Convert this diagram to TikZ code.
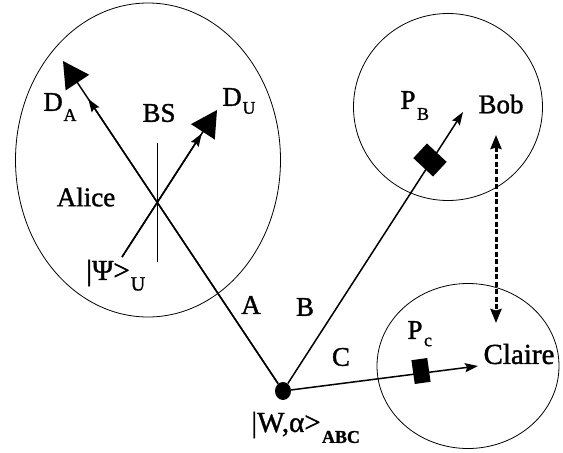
\documentclass[tikz,border=0pt]{standalone}
\usepackage{fontspec}
\setmainfont[RawFeature={embolden=1.3}]{Liberation Serif}
\usetikzlibrary{arrows.meta,shapes.geometric,calc}
\tikzset{
  blob/.style={draw,ellipse,line width=0.8pt,inner sep=0pt},
  ray/.style={line width=1.5pt},
  big/.style={line width=1.5pt,-{Triangle[length=26pt,width=28pt]}},
  small/.style={line width=1.5pt,-{Stealth[length=13pt,width=9pt,inset=2pt]}},
  lab/.style={inner sep=0pt,font=\fontsize{27}{27}\selectfont},
  sub/.style={inner sep=0pt,font=\fontsize{18}{18}\selectfont},
  subb/.style={inner sep=0pt,font=\fontsize{20}{20}\selectfont},
  modu/.style={fill=black,draw=none,inner sep=0pt}
}
\begin{document}
\begin{tikzpicture}[x=1pt,y=-1pt]
\useasboundingbox (0,0) rectangle (563,453);
\node[blob,minimum width=265pt,minimum height=314pt] (alice) at (148,160) {};
\node[blob,minimum width=189pt,minimum height=187pt] (bob) at (448,107) {};
\node[blob,minimum width=182pt,minimum height=165pt] (claire) at (468,366) {};
\node[ellipse,fill=black,inner sep=0pt,minimum width=16pt,minimum height=18pt] (src) at (283,391) {};
\coordinate (atip) at (63,61);
\coordinate (ustart) at (122,257);
\coordinate (utip) at (217,110);
\coordinate (btip) at (463,112);
\coordinate (ctip) at (478,366);
\coordinate (bstop) at (157.5,143);
\coordinate (bsbot) at (157.5,262);
\coordinate (dtop) at (496,135);
\coordinate (dbot) at (496,323);
% rays
\draw[big] (src) -- (atip);
\draw[small] (src) -- ($(src)!0.885!(atip)$);
\draw[big] (ustart) -- (utip);
\draw[small] (ustart) -- ($(ustart)!0.84!(utip)$);
\draw[ray] (bstop) -- (bsbot);
\draw[small] (src) -- (btip);
\draw[small] (src) -- (ctip);
\draw[line width=3pt,dash pattern=on 5pt off 2.5pt,{Stealth[length=14pt,width=11pt,inset=1.5pt]}-{Stealth[length=14pt,width=11pt,inset=1.5pt]}] (dtop) -- (dbot);
% modulators
\node[modu,minimum width=27pt,minimum height=20pt,rotate=-43] (pb) at (430,160) {};
\node[modu,minimum width=16pt,minimum height=24pt,rotate=8] (pc) at (421,371) {};
% labels
\node[lab] (da) at (53,102) {D};
\node[sub] (das) at (70,115) {A};
\node[lab] (du) at (232,97) {D};
\node[sub] (dus) at (249,108) {U};
\node[lab] (bs) at (159,113) {BS};
\node[lab] (al) at (86,197) {Alice};
\node[lab,font=\fontsize{29}{29}\selectfont] (psi) at (108,273) {|Ψ>};
\node[subb] (psis) at (138,284) {U};
\node[lab] (a) at (251,305) {A};
\node[lab] (b) at (305,307) {B};
\node[lab] (c) at (341,357) {C};
\node[lab] (pbl) at (408,100) {P};
\node[sub] (pbs) at (423,114) {B};
\node[lab] (bo) at (501,104) {Bob};
\node[lab] (pcl) at (415,330) {P};
\node[sub] (pcs) at (428,342) {c};
\node[lab,font=\fontsize{29}{29}\selectfont] (cl) at (519,354) {Claire};
\node[lab,font=\fontsize{29}{29}\selectfont] (w) at (286,425) {|W,α>};
\node[sub,font=\fontsize{18}{18}\selectfont\bfseries] (ws) at (341,437) {ABC};
\end{tikzpicture}
\end{document}
